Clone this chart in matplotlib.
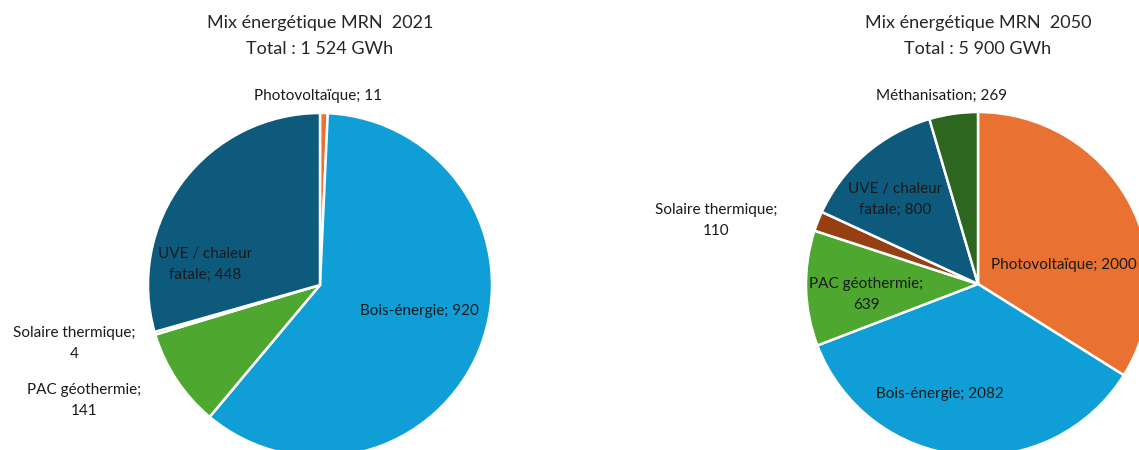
import matplotlib
matplotlib.use("Agg")
import matplotlib.pyplot as plt

plt.rcParams['font.family'] = ['Lato', 'DejaVu Sans']

# 2021 mix
labels_2021 = ["Photovoltaïque", "Bois-énergie", "PAC géothermie", "Solaire thermique", "UVE / chaleur\nfatale"]
values_2021 = [11, 920, 141, 4, 448]
total_2021 = "1 524"

# 2050 mix
labels_2050 = ["Photovoltaïque", "Bois-énergie", "PAC géothermie", "Solaire thermique", "UVE / chaleur\nfatale", "Méthanisation"]
values_2050 = [2000, 2082, 639, 110, 800, 269]
total_2050 = "5 900"

colors = {
    "Photovoltaïque": "#E97132",
    "Bois-énergie": "#0F9ED5",
    "PAC géothermie": "#4EA72E",
    "Solaire thermique": "#953F13",
    "UVE / chaleur\nfatale": "#0E5A7D",
    "Méthanisation": "#2D661E",
}

# label positions in pie units (radius = 1): (x, y), separator, alignment
pos_2021 = [((-0.01, 1.10), "; ", "center"), ((0.58, -0.15), "; ", "center"),
            ((-1.37, -0.67), ";\n", "center"), ((-1.43, -0.34), ";\n", "center"),
            ((-0.67, 0.12), "; ", "center")]
pos_2050 = [((0.075, 0.11), "; ", "left"), ((-0.22, -0.64), "; ", "center"),
            ((-0.65, -0.06), ";\n", "center"), ((-1.52, 0.37), ";\n", "center"),
            ((-0.48, 0.49), "; ", "center"), ((-0.21, 1.095), "; ", "center")]

W, H = 1139, 450
fig = plt.figure(figsize=(W / 100, H / 100), dpi=100)

R = 172


def draw(cx, cy, labels, values, positions, year, total):
    ax = fig.add_axes([(cx - R) / W, (H - cy - R) / H, 2 * R / W, 2 * R / H])
    ax.pie(values, colors=[colors[l] for l in labels], startangle=90, counterclock=False,
           radius=1, wedgeprops=dict(edgecolor="white", linewidth=1.8))
    ax.set_xlim(-1, 1)
    ax.set_ylim(-1, 1)
    ax.set_aspect("equal")
    ax.axis("off")
    for lab, val, ((x, y), sep, ha) in zip(labels, values, positions):
        ax.text(x, y, lab + sep + str(val), ha=ha, va="center", fontsize=11,
                color="#1a1a1a", clip_on=False, linespacing=1.6)
    fig.text(cx / W, 1 - 23 / H, "Mix énergétique MRN  " + year, ha="center", va="center",
             fontsize=13, color="#262626")
    fig.text(cx / W, 1 - 49 / H, "Total : " + total + " GWh", ha="center", va="center",
             fontsize=13, color="#262626")


draw(320, 285, labels_2021, values_2021, pos_2021, "2021", total_2021)
draw(978, 284, labels_2050, values_2050, pos_2050, "2050", total_2050)

fig.savefig("out.png", dpi=100, facecolor="white")
